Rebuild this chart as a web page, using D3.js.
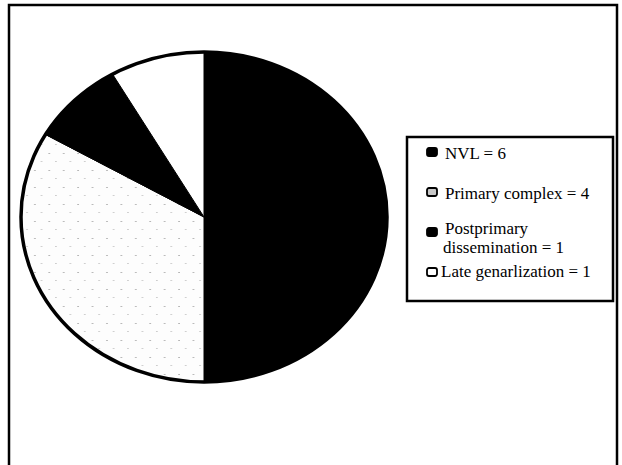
<!DOCTYPE html>
<html>
<head>
<meta charset="utf-8">
<script src="https://cdn.jsdelivr.net/npm/d3@7"></script>
<style>
  body { margin: 0; background: #fff; }
  svg { display: block; }
  .leyenda text { font-family: "Liberation Serif", "DejaVu Serif", serif; font-size: 17px; }
</style>
</head>
<body>
<div id="grafico"></div>
<script>
// datos del grafico
const categorias = ["NVL", "Primary complex", "Postprimary dissemination", "Late genarlization"];
const valores = [6, 4, 1, 1];
const etiquetas = [["NVL = 6"], ["Primary complex = 4"], ["Postprimary", "dissemination = 1"], ["Late genarlization = 1"]];
const colores = ["#000", "url(#puntos)", "#000", "#fff"];
const coloresLeyenda = ["#000", "#c8c8c8", "#000", "#fff"];

const width = 622, height = 465;

const svg = d3.select("#grafico")
  .append("svg")
  .attr("width", width)
  .attr("height", height);

// textura moteada para el sector claro
const pat = svg.append("defs").append("pattern")
  .attr("id", "puntos")
  .attr("patternUnits", "userSpaceOnUse")
  .attr("width", 13).attr("height", 17);
pat.append("rect").attr("width", 13).attr("height", 17).attr("fill", "#fdfdfd");
pat.append("rect").attr("x", 3).attr("y", 4).attr("width", 1).attr("height", 1).attr("fill", "#8a8a8a");
pat.append("rect").attr("x", 9).attr("y", 12).attr("width", 1).attr("height", 1).attr("fill", "#b0b0b0");

// marco exterior
svg.append("rect")
  .attr("x", 9).attr("y", 5)
  .attr("width", 608).attr("height", 480)
  .attr("fill", "none")
  .attr("stroke", "#000")
  .attr("stroke-width", 2.5);

// pastel (eliptico, como en la figura escaneada)
const cx = 204, cy = 217, rx = 183, ry = 165;

const pie = d3.pie().sort(null).value(d => d)(valores);
const arc = d3.arc().innerRadius(0).outerRadius(ry);

const g = svg.append("g")
  .attr("transform", `translate(${cx},${cy}) scale(${rx / ry},1)`);

g.selectAll("path.sector")
  .data(pie)
  .enter()
  .append("path")
  .attr("class", "sector")
  .attr("d", arc)
  .attr("fill", (d, i) => colores[i])
  .attr("stroke", "#000")
  .attr("stroke-width", 1)
  .attr("vector-effect", "non-scaling-stroke");

g.append("circle")
  .attr("r", ry)
  .attr("fill", "none")
  .attr("stroke", "#000")
  .attr("stroke-width", 3.5)
  .attr("vector-effect", "non-scaling-stroke");

// leyenda
const leyenda = svg.append("g").attr("class", "leyenda");
leyenda.append("rect")
  .attr("x", 407).attr("y", 137)
  .attr("width", 206).attr("height", 164)
  .attr("fill", "#fff")
  .attr("stroke", "#000")
  .attr("stroke-width", 2.5);

const yFila = d3.scaleLinear().domain([0, 3]).range([152, 272]);

const filas = leyenda.selectAll("g.fila")
  .data(categorias)
  .enter()
  .append("g")
  .attr("class", "fila")
  .attr("transform", (d, i) => `translate(0,${yFila(i)})`);

filas.append("rect")
  .attr("x", 427).attr("y", -4)
  .attr("width", 10).attr("height", 8)
  .attr("rx", 2)
  .attr("fill", (d, i) => coloresLeyenda[i])
  .attr("stroke", "#000")
  .attr("stroke-width", 1.8);

// cada linea de la etiqueta va en su propio texto
filas.each(function(d, i) {
  const lineas = etiquetas[i];
  const x0 = i == 3 ? 441 : 445;
  const y0 = lineas.length > 1 ? 2 : (i == 3 ? 5 : 7);
  lineas.forEach((l, j) => {
    d3.select(this).append("text")
      .attr("x", x0 - (j > 0 ? 2 : 0))
      .attr("y", y0 + j * 19)
      .attr("fill", "#000")
      .text(l);
  });
});
</script>
</body>
</html>
